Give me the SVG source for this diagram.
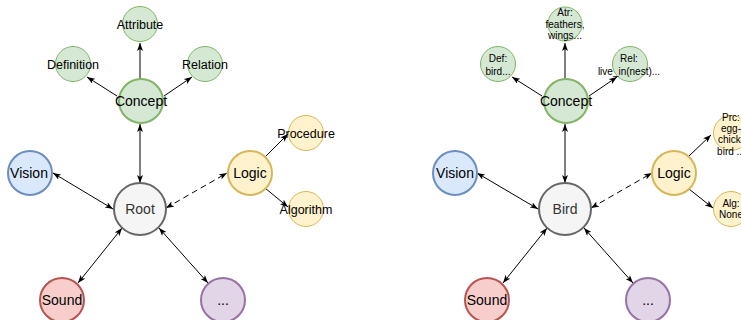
<svg xmlns="http://www.w3.org/2000/svg" width="741" height="320" viewBox="0 0 741 320">
<style>
text{font-family:"Liberation Sans",Arial,sans-serif;text-anchor:middle;fill:#000}
.big{font-size:14px}
.sm{font-size:12.5px}
.xs{font-size:10px}
.gr{fill:#d5e8d4;stroke:#82b366}
.bl{fill:#dae8fc;stroke:#6c8ebf}
.ye{fill:#fff2cc;stroke:#d6b656}
.re{fill:#f8cecc;stroke:#b85450}
.pu{fill:#e1d5e7;stroke:#9673a6}
.gy{fill:#f5f5f5;stroke:#666666}
.L{stroke-width:2}
.S{stroke-width:1}
.c line{stroke:#000;stroke-width:1;fill:none}
.one{marker-end:url(#ar)}
.two{marker-end:url(#ar);marker-start:url(#ar)}
.dash{stroke-dasharray:6 4}
</style>
<defs>
<marker id="ar" viewBox="0 0 8 6" refX="8" refY="3" markerWidth="8" markerHeight="6" markerUnits="userSpaceOnUse" orient="auto-start-reverse">
<path d="M0,0 L8,3 L0,6 L2,3 Z" fill="#000"/>
</marker>
</defs>

<g id="connectors" class="c">
<line class="one" x1="140" y1="79" x2="140" y2="43"/>
<line class="one" x1="117" y1="96" x2="87" y2="77"/>
<line class="one" x1="164" y1="96" x2="192" y2="77"/>
<line class="two" x1="140" y1="183" x2="140" y2="124"/>
<line class="two" x1="113" y1="209" x2="53" y2="173"/>
<line class="two dash" x1="166" y1="208" x2="227" y2="173"/>
<line class="one" x1="265" y1="157" x2="288" y2="134"/>
<line class="one" x1="265" y1="188" x2="288" y2="207"/>
<line class="two" x1="122" y1="228" x2="78" y2="283"/>
<line class="two" x1="159" y1="228" x2="208" y2="283"/>

<line class="one" x1="565" y1="79" x2="565" y2="43"/>
<line class="one" x1="542" y1="96" x2="512" y2="77"/>
<line class="one" x1="589" y1="96" x2="617" y2="77"/>
<line class="two" x1="565" y1="183" x2="565" y2="124"/>
<line class="two" x1="538" y1="209" x2="477" y2="173"/>
<line class="two dash" x1="591" y1="208" x2="652" y2="173"/>
<line class="one" x1="689" y1="156" x2="711" y2="135"/>
<line class="one" x1="689" y1="189" x2="713" y2="208"/>
<line class="two" x1="547" y1="228" x2="503" y2="283"/>
<line class="two" x1="584" y1="228" x2="633" y2="283"/>
</g>

<g id="attribute"><circle class="gr S" cx="140" cy="24" r="17.5"/><text class="sm" x="140" y="28.5">Attribute</text></g>
<g id="definition"><circle class="gr S" cx="73" cy="64" r="17.5"/><text class="sm" x="73" y="68.5">Definition</text></g>
<g id="relation"><circle class="gr S" cx="205" cy="64" r="17.5"/><text class="sm" x="205" y="68.5">Relation</text></g>
<g id="concept"><circle class="gr L" cx="141" cy="101" r="22"/><text class="big" x="141" y="106">Concept</text></g>
<g id="vision"><circle class="bl L" cx="30" cy="173" r="22"/><text class="big" x="29" y="178">Vision</text></g>
<g id="root"><circle class="gy L" cx="140" cy="209" r="26"/><text class="big" x="140" y="214" style="fill:#333">Root</text></g>
<g id="logic"><circle class="ye L" cx="250" cy="173" r="22"/><text class="big" x="250" y="178">Logic</text></g>
<g id="procedure"><circle class="ye S" cx="306" cy="133" r="17.5"/><text class="sm" x="306" y="137.5">Procedure</text></g>
<g id="algorithm"><circle class="ye S" cx="306" cy="209" r="17.5"/><text class="sm" x="306" y="213.5">Algorithm</text></g>
<g id="sound"><circle class="re L" cx="62" cy="300" r="22"/><text class="big" x="62" y="305">Sound</text></g>
<g id="more"><circle class="pu L" cx="223" cy="300" r="22"/><text class="big" x="223" y="305">...</text></g>

<g id="attribute2"><circle class="gr S" cx="565" cy="24" r="17"/><text class="xs"><tspan x="565" y="15.5">Atr:</tspan><tspan x="565" y="27.5">feathers,</tspan><tspan x="565" y="39">wings...</tspan></text></g>
<g id="definition2"><circle class="gr S" cx="498" cy="64" r="17.5"/><text class="xs"><tspan x="498" y="61.5">Def:</tspan><tspan x="498" y="74.5">bird...</tspan></text></g>
<g id="relation2"><circle class="gr S" cx="630" cy="64" r="17.5"/><text class="xs"><tspan x="629" y="61.5">Rel:</tspan><tspan x="629" y="74.5">live_in(nest)...</tspan></text></g>
<g id="concept2"><circle class="gr L" cx="566" cy="101" r="22"/><text class="big" x="566" y="106">Concept</text></g>
<g id="vision2"><circle class="bl L" cx="455" cy="173" r="22"/><text class="big" x="455" y="178">Vision</text></g>
<g id="bird"><circle class="gy L" cx="565" cy="209" r="26"/><text class="big" x="565" y="214" style="fill:#333">Bird</text></g>
<g id="logic2"><circle class="ye L" cx="674" cy="173" r="22"/><text class="big" x="674" y="178">Logic</text></g>
<g id="procedure2"><circle class="ye S" cx="731" cy="133" r="17.5"/><text class="xs"><tspan x="731" y="120.5">Prc:</tspan><tspan x="731" y="131.5">egg-</tspan><tspan x="731" y="142.5">chick-</tspan><tspan x="731" y="154.5">bird ...</tspan></text></g>
<g id="algorithm2"><circle class="ye S" cx="731" cy="209" r="17.5"/><text class="xs"><tspan x="731" y="206.5">Alg:</tspan><tspan x="731" y="217.5">None</tspan></text></g>
<g id="sound2"><circle class="re L" cx="487" cy="300" r="22"/><text class="big" x="487" y="305">Sound</text></g>
<g id="more2"><circle class="pu L" cx="648" cy="300" r="22"/><text class="big" x="648" y="305">...</text></g>
</svg>
